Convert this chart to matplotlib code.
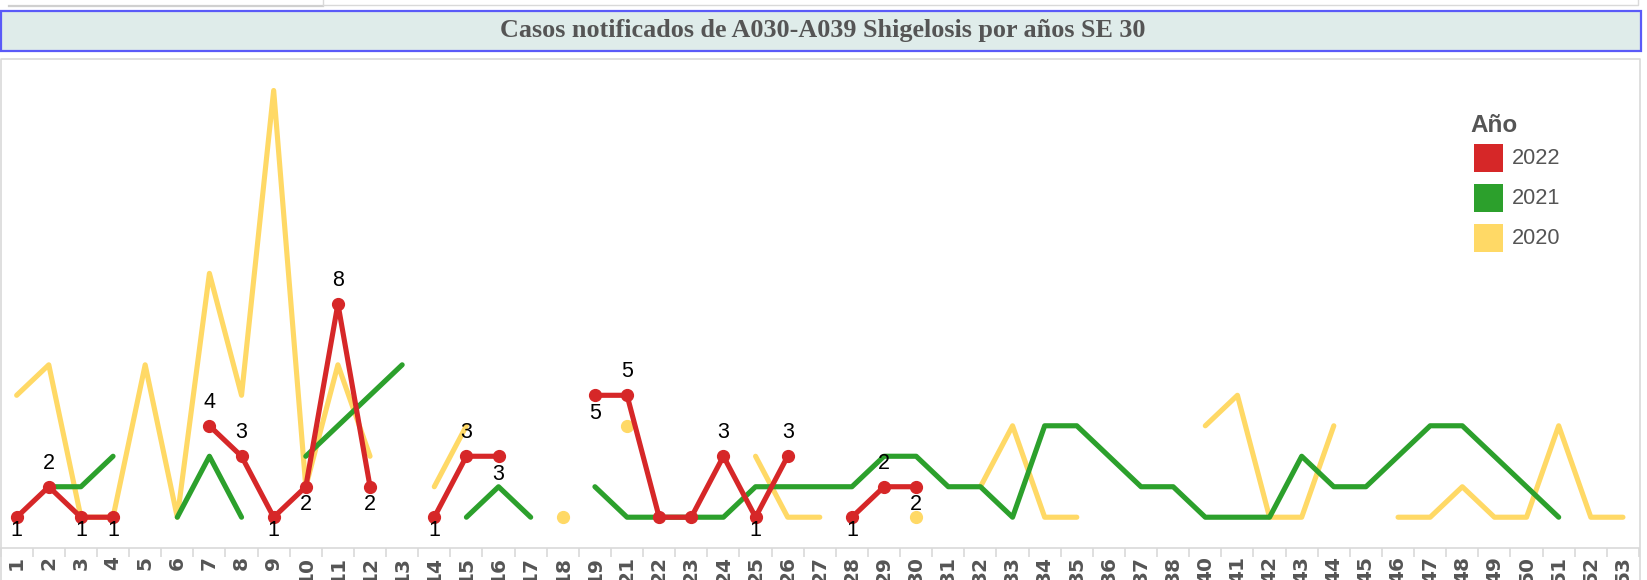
import numpy as np
import matplotlib.pyplot as plt
from matplotlib.patches import Rectangle
from matplotlib.lines import Line2D

nan = np.nan

# semanas epidemiologicas (20 y 39 no aparecen)
weeks = list(range(1, 20)) + list(range(21, 39)) + list(range(40, 54))
week_labels = [str(w) for w in weeks]

# casos por semana, nan = sin dato
c2020 = {1: 5, 2: 6, 3: 1, 4: 1, 5: 6, 6: 1, 7: 9, 8: 5, 9: 15, 10: 2, 11: 6, 12: 3,
         14: 2, 15: 4, 18: 1, 21: 4, 25: 3, 26: 1, 27: 1, 30: 1, 32: 2, 33: 4, 34: 1,
         35: 1, 40: 4, 41: 5, 42: 1, 43: 1, 44: 4, 46: 1, 47: 1, 48: 2, 49: 1, 50: 1,
         51: 4, 52: 1, 53: 1}
c2021 = {2: 2, 3: 2, 4: 3, 6: 1, 7: 3, 8: 1, 10: 3, 11: 4, 12: 5, 13: 6, 15: 1, 16: 2,
         17: 1, 19: 2, 21: 1, 22: 1, 23: 1, 24: 1, 25: 2, 26: 2, 27: 2, 28: 2, 29: 3,
         30: 3, 31: 2, 32: 2, 33: 1, 34: 4, 35: 4, 36: 3, 37: 2, 38: 2, 40: 1, 41: 1,
         42: 1, 43: 3, 44: 2, 45: 2, 46: 3, 47: 4, 48: 4, 49: 3, 50: 2, 51: 1}
c2022 = {1: 1, 2: 2, 3: 1, 4: 1, 7: 4, 8: 3, 9: 1, 10: 2, 11: 8, 12: 2, 14: 1, 15: 3,
         16: 3, 19: 5, 21: 5, 22: 1, 23: 1, 24: 3, 25: 1, 26: 3, 28: 1, 29: 2, 30: 2}

years = ['2022', '2021', '2020']
colors = {'2022': '#d62728', '2021': '#2ca02c', '2020': '#ffd966'}
gray = '#555555'
border = '#d9d9d9'

W, H = 1647, 580
fig = plt.figure(figsize=(W / 100, H / 100), dpi=100)

def fx(px):
    return px / W

def fy(py):
    return 1 - py / H

# marcos de la pagina
fig.add_artist(Line2D([fx(9), fx(323)], [fy(5.5), fy(5.5)], color='#d0d0d0', lw=1.6))
fig.add_artist(Line2D([fx(323), fx(1638), fx(1638)], [fy(5), fy(5), fy(0)], color=border, lw=1))
fig.add_artist(Line2D([fx(323), fx(323)], [fy(0), fy(5)], color=border, lw=1))
fig.add_artist(Rectangle((fx(1), fy(51)), fx(1640), 40 / H, facecolor='#dfecea',
                         edgecolor='#5a5af8', lw=1.6))
fig.text(fx(823), fy(31), 'Casos notificados de A030-A039 Shigelosis por años SE 30',
         ha='center', va='center', fontsize=18.8, fontweight='bold', color=gray,
         family='Liberation Serif')
fig.add_artist(Line2D([fx(1), fx(1), fx(1640), fx(1640)], [0, fy(58.5), fy(58.5), 0],
                      color=border, lw=1.2))

ax = fig.add_axes([fx(0.6), fy(547.7), fx(1639 - 0.6), (547.7 - 60) / H])
x = np.arange(len(weeks))

def series(d):
    return np.array([d.get(w, nan) for w in weeks], dtype=float)

for yr, d in [('2020', c2020), ('2021', c2021), ('2022', c2022)]:
    y = series(d)
    c = colors[yr]
    if yr == '2022':
        ax.plot(x, y, color=c, lw=3.7, marker='o', ms=8.5, solid_capstyle='round',
                solid_joinstyle='round', zorder=4)
    else:
        ax.plot(x, y, color=c, lw=3.7, solid_capstyle='round', solid_joinstyle='round',
                zorder=2 if yr == '2020' else 3)
        # puntos aislados
        iso = [i for i in range(len(y)) if not np.isnan(y[i])
               and (i == 0 or np.isnan(y[i - 1])) and (i == len(y) - 1 or np.isnan(y[i + 1]))]
        ax.plot(x[iso], y[iso], 'o', color=c, ms=8.5, zorder=2)

# etiquetas de 2022: a = arriba, b = abajo
label_pos = {1: 'b', 2: 'a', 3: 'b', 4: 'b', 7: 'a', 8: 'a', 9: 'b', 10: 'b', 11: 'a',
             12: 'b', 14: 'b', 15: 'a', 16: 'b', 19: 'b', 21: 'a', 24: 'a', 25: 'b',
             26: 'a', 28: 'b', 29: 'a', 30: 'b'}
for w, v in c2022.items():
    if w not in label_pos:
        continue
    if label_pos[w] == 'a':
        off = 17
    else:
        off = -9.5 if v == 1 else -13
    ax.annotate(str(v), (weeks.index(w), v), xytext=(0, off), textcoords='offset points',
                ha='center', va='center', fontsize=15.5, color='black', zorder=5,
                family='Liberation Sans', annotation_clip=False)

ax.set_xlim(-0.5, len(weeks) - 0.5)
ax.set_ylim(0, 16)
ax.set_yticks([])
for s in ['left', 'right', 'top']:
    ax.spines[s].set_visible(False)
ax.spines['bottom'].set_color(border)
ax.spines['bottom'].set_linewidth(1.2)
ax.set_xticks(x)
ax.set_xticklabels(week_labels, rotation=90, va='top', ha='center', fontsize=14.5,
                   fontweight='bold', color=gray, family='DejaVu Sans')
ax.tick_params(axis='x', which='major', length=0, pad=6)
ax.set_xticks(np.arange(-0.5, len(weeks), 1), minor=True)
ax.tick_params(axis='x', which='minor', length=6.5, width=1.2, color=border)
ax.patch.set_alpha(0)

# leyenda
fig.text(fx(1470), fy(126), 'Año', ha='left', va='center', fontsize=17.5, fontweight='bold',
         color=gray, family='Liberation Sans')
for i, yr in enumerate(years):
    cy = 158 + 40 * i
    fig.add_artist(Rectangle((fx(1474), fy(cy + 14)), fx(29), 28 / H,
                             facecolor=colors[yr], edgecolor='none'))
    fig.text(fx(1512), fy(cy), yr, ha='left', va='center', fontsize=15.7, color=gray,
             family='Liberation Sans')

fig.savefig('out.png', dpi=100)
